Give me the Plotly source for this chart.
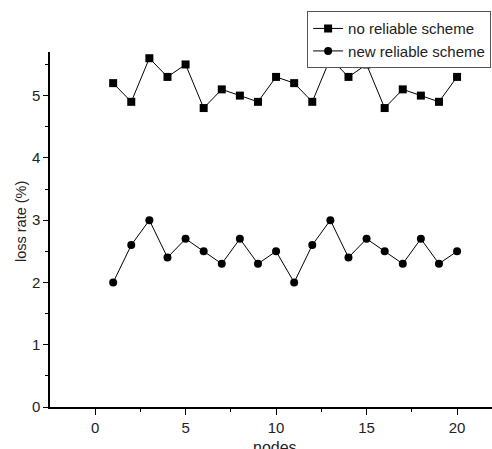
import plotly.graph_objects as go

nodes = list(range(1, 21))
no_reliable = [5.2, 4.9, 5.6, 5.3, 5.5, 4.8, 5.1, 5.0, 4.9, 5.3,
               5.2, 4.9, 5.6, 5.3, 5.5, 4.8, 5.1, 5.0, 4.9, 5.3]
new_reliable = [2.0, 2.6, 3.0, 2.4, 2.7, 2.5, 2.3, 2.7, 2.3, 2.5,
                2.0, 2.6, 3.0, 2.4, 2.7, 2.5, 2.3, 2.7, 2.3, 2.5]
x_title = "nodes"
y_title = "loss rate (%)"

fig = go.Figure()
fig.add_trace(go.Scatter(x=nodes, y=no_reliable, mode="lines+markers",
                         name="no reliable scheme",
                         line=dict(color="black", width=1),
                         marker=dict(symbol="square", size=8, color="black")))
fig.add_trace(go.Scatter(x=nodes, y=new_reliable, mode="lines+markers",
                         name="new reliable scheme",
                         line=dict(color="black", width=1),
                         marker=dict(symbol="circle", size=8, color="black")))

font_family = "Arial"
fig.update_layout(
    width=492, height=449,
    margin=dict(l=50, r=0, t=52, b=42),
    paper_bgcolor="white", plot_bgcolor="white",
    font=dict(family=font_family, color="#222", size=15),
    showlegend=True,
    legend=dict(x=0.998, xanchor="right", y=1.115, yanchor="top",
                bordercolor="#555", borderwidth=1, bgcolor="white",
                font=dict(size=15, family=font_family, color="#222"),
                tracegroupgap=0, itemwidth=30),
    xaxis=dict(range=[-2.49, 21.93], tickvals=[0, 5, 10, 15, 20],
               showline=True, linecolor="black", linewidth=1.5,
               ticks="outside", ticklen=6, tickcolor="black",
               showgrid=False, zeroline=False, automargin=False,
               tickfont=dict(size=15),
               minor=dict(ticks="outside", ticklen=3, dtick=2.5, tick0=0, tickcolor="black")),
    yaxis=dict(range=[0, 5.7], tickvals=[0, 1, 2, 3, 4, 5],
               showline=True, linecolor="black", linewidth=1.5,
               ticks="outside", ticklen=5, tickcolor="black",
               showgrid=False, zeroline=False, automargin=False,
               tickfont=dict(size=15),
               minor=dict(ticks="outside", ticklen=3, dtick=0.5, tick0=0, tickcolor="black")),
    annotations=[
        dict(text=x_title, xref="paper", yref="paper", x=0.509, y=-0.113,
             xanchor="center", yanchor="middle", showarrow=False,
             font=dict(size=16, family=font_family, color="#222")),
        dict(text=y_title, xref="paper", yref="paper", x=-0.0656, y=0.521,
             xanchor="center", yanchor="middle", showarrow=False, textangle=-90,
             font=dict(size=14.5, family=font_family, color="#222")),
    ],
)

fig.write_html("out.html", config={"displayModeBar": False},
               post_script="document.body.style.margin='0px';")
